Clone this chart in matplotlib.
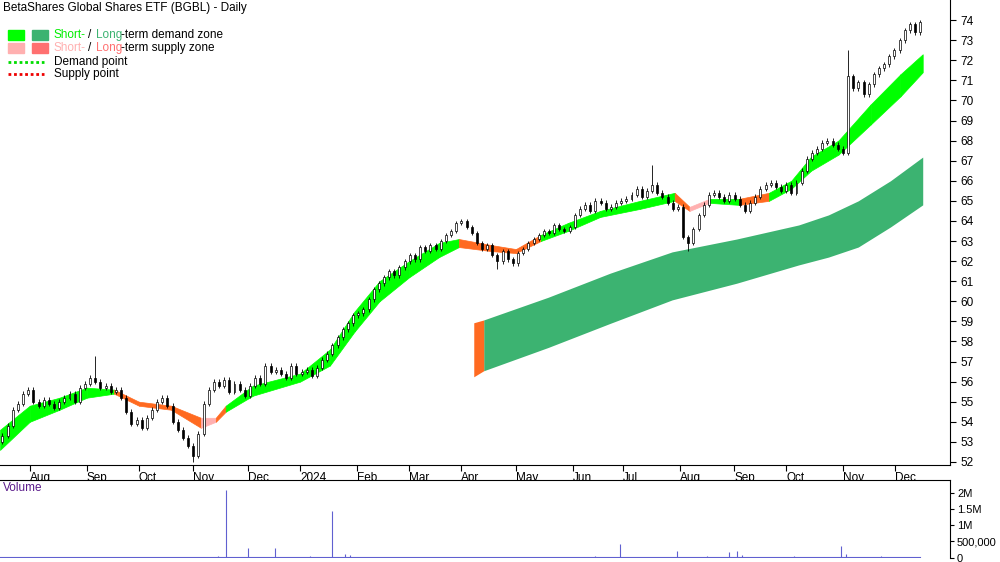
import matplotlib
matplotlib.use("Agg")
import matplotlib.pyplot as plt
import numpy as np
import pandas as pd

plt.rcParams["font.family"] = ["Liberation Sans", "DejaVu Sans"]

START = "2023-07-14"
END = "2024-12-31"

# closing prices, roughly two per week from 17 Jul 2023 to mid Dec 2024
closes = [
    53.3, 53.8, 54.6, 54.9, 55.4, 55.6,
    55.0, 54.8, 55.1, 54.9, 54.7, 55.0, 55.2, 55.4, 55.0, 55.7, 55.9,
    56.2, 56.0, 55.7, 55.8, 55.5, 55.6, 55.2, 54.5, 53.9, 54.1,
    53.7, 54.2, 54.6, 55.0, 55.2, 54.8, 54.0, 53.6, 53.2, 52.8, 52.3,
    53.4, 54.9, 55.6, 56.0, 55.8, 56.1, 55.5, 55.9, 55.6, 55.3, 55.8,
    56.2, 55.9, 56.8, 56.5, 56.6, 56.4, 56.2, 56.8, 56.4, 56.5,
    56.6, 56.3, 56.7, 57.1, 57.4, 57.8, 58.2, 58.6, 58.9, 59.3, 59.4,
    59.6, 60.1, 60.6, 60.9, 61.2, 61.5, 61.3, 61.7, 62.0, 62.3,
    62.1, 62.7, 62.5, 62.8, 62.6, 63.0, 63.3, 63.5, 63.9, 64.0,
    63.7, 63.4, 62.9, 62.6, 62.8, 62.3, 62.0, 62.5, 62.1, 61.9,
    62.4, 62.6, 62.9, 63.1, 63.3, 63.5, 63.4, 63.8, 63.6, 63.5, 63.7,
    64.3, 64.6, 64.8, 64.5, 65.0, 64.9, 64.6, 64.7, 64.9, 65.0,
    65.1, 65.3, 65.6, 65.2, 65.5, 65.8, 65.4, 65.2, 64.9, 64.6, 64.7,
    63.2, 62.9, 63.6, 64.3, 64.8, 65.3, 65.4, 65.2, 65.0, 65.3, 65.1,
    64.8, 64.5, 64.9, 65.2, 65.6, 65.8, 65.9, 65.7, 65.5, 65.8,
    65.4, 65.9, 66.5, 67.1, 67.4, 67.6, 67.9, 68.0, 67.8, 67.6, 67.4,
    71.2, 70.6, 70.9, 70.3, 70.8, 71.3, 71.6, 71.8, 72.2, 72.5,
    73.0, 73.5, 73.8, 73.4, 73.9,
]
first_open = 53.0
# unusual wicks: candle number -> high / low
wick_highs = {18: 57.3, 164: 72.5, 126: 66.8}
wick_lows = {133: 62.5, 37: 52.0, 96: 61.6}

# short-term zone (trading-day index, lower, upper, colour state)
st_idx = [0, 12, 24, 35, 46, 56, 69, 81, 87, 91, 102, 121, 133, 143, 153, 165, 177,
          185, 198, 208, 218, 229, 242, 258, 272, 278, 286, 298, 310, 319, 327, 338,
          351, 363, 372]
st_low = [52.6, 54.0, 54.6, 55.2, 55.4, 54.8, 54.6, 53.7, 54.0, 54.5, 55.3, 56.0, 56.8,
          58.5, 60.0, 61.2, 62.2, 62.7, 62.5, 62.4, 63.0, 63.5, 64.2, 64.6, 65.0, 64.5,
          64.9, 64.8, 65.0, 65.6, 66.5, 67.3, 68.8, 70.2, 71.4]
st_high = [53.6, 54.8, 55.2, 55.7, 55.6, 55.0, 54.8, 54.2, 54.2, 54.8, 55.8, 56.4, 57.6,
           59.5, 61.0, 62.0, 62.9, 63.1, 62.8, 62.6, 63.3, 63.9, 64.5, 65.0, 65.4, 64.7,
           65.1, 65.1, 65.4, 66.0, 67.2, 68.0, 69.8, 71.3, 72.3]
st_state = ["d", "d", "d", "d", "s", "s", "s", "p", "s", "d", "d", "d", "d", "d", "d",
            "d", "d", "s", "s", "s", "d", "d", "d", "d", "s", "p", "d", "s", "d", "d",
            "d", "d", "d", "d", "d"]

# long-term zone
lt_idx = [191, 195, 221, 246, 271, 297, 322, 334, 346, 359, 372]
lt_low = [56.24, 56.54, 57.7, 58.9, 60.07, 60.9, 61.81, 62.2, 62.7, 63.7, 64.8]
lt_high = [58.93, 59.07, 60.2, 61.4, 62.46, 63.1, 63.8, 64.3, 65.0, 66.0, 67.18]

# volume spikes (trading-day index, shares)
vol_idx = [5, 20, 40, 60, 80, 88, 91, 100, 111, 125, 134, 139, 141, 160, 190, 215,
           240, 250, 262, 273, 285, 294, 297, 299, 320, 339, 341, 355, 370]
vol_val = [20000, 30000, 25000, 20000, 30000, 40000, 2100000, 280000, 290000, 40000,
           1450000, 100000, 90000, 30000, 25000, 30000, 35000, 420000, 30000, 200000,
           60000, 170000, 190000, 90000, 40000, 350000, 110000, 40000, 30000]

days = pd.bdate_range(START, END)
n = len(closes)
cx = 1 + np.arange(n) * (371 - 1) / (n - 1)

fig = plt.figure(figsize=(10, 5.62), dpi=100)
ax = fig.add_axes([0.0, 0.173, 0.95, 0.827])
axv = fig.add_axes([0.0, 0.008, 0.95, 0.138])

# short-term zone, coloured by segment
zone_col = {"d": "#00ff00", "s": "#ff6a20", "p": "#ffb0b0"}
for i in range(len(st_idx) - 1):
    ax.fill_between(st_idx[i:i + 2], st_low[i:i + 2], st_high[i:i + 2],
                    color=zone_col[st_state[i]], lw=0.5, zorder=2)

ax.fill_between(lt_idx[1:], lt_low[1:], lt_high[1:], color="#3cb371", lw=0, zorder=1)
ax.fill_between(lt_idx[:2], lt_low[:2], lt_high[:2], color="#ff6a20", lw=0, zorder=1)

opens = [first_open] + closes[:-1]
for i in range(n):
    o, c = opens[i], closes[i]
    hi = wick_highs.get(i, max(o, c) + 0.12)
    lo = wick_lows.get(i, min(o, c) - 0.12)
    ax.vlines(cx[i], lo, hi, color="black", lw=0.6, zorder=3)
    up = c >= o
    ax.bar(cx[i], max(abs(c - o), 0.08), bottom=min(o, c), width=0.8,
           color="white" if up else "black", edgecolor="black", lw=0.5, zorder=4)

ax.set_xlim(0, 383)
ax.set_ylim(51.86, 75.0)
ax.yaxis.tick_right()
ax.set_yticks(range(52, 75))
ax.tick_params(axis="y", labelsize=8.5, length=4, direction="out")
for s in ["top", "left"]:
    ax.spines[s].set_visible(False)

month_pos, month_lab = [], []
for m in pd.date_range("2023-08-01", "2024-12-01", freq="MS"):
    pos = days.searchsorted(m)
    month_pos.append(pos)
    month_lab.append("2024" if m.year == 2024 and m.month == 1 else m.strftime("%b"))
ax.set_xticks(month_pos)
ax.set_xticklabels(month_lab, ha="left", fontsize=8.5)
ax.tick_params(axis="x", length=4, pad=1)

ax.text(0.003, 0.995, "BetaShares Global Shares ETF (BGBL) - Daily",
        transform=ax.transAxes, va="top", fontsize=8.5)

# legend
for (x0, y0, col) in [(8, 40, "#00ff00"), (32, 40, "#3cb371"),
                      (8, 53, "#ffb0b0"), (32, 53, "#ff7070")]:
    fig.patches.append(plt.Rectangle((x0 / 1000, 1 - y0 / 562), 16 / 1000, 10 / 562,
                                     color=col, transform=fig.transFigure))
for y, col in [(62, "#00dd00"), (74, "#ee0000")]:
    fig.add_artist(plt.Line2D([8 / 1000, 44 / 1000], [1 - y / 562] * 2, color=col,
                              lw=2, ls=(0, (1, 1)), transform=fig.transFigure))
fs = 8.5
ty = [35, 48, 62, 74]
fig.text(54 / 1000, 1 - ty[0] / 562, "Short-", color="#00ee00", fontsize=fs, va="center")
fig.text(88 / 1000, 1 - ty[0] / 562, "/", fontsize=fs, va="center")
fig.text(96 / 1000, 1 - ty[0] / 562, "Long", color="#3cb371", fontsize=fs, va="center")
fig.text(121 / 1000, 1 - ty[0] / 562, "-term demand zone", fontsize=fs, va="center")
fig.text(54 / 1000, 1 - ty[1] / 562, "Short-", color="#ffb0b0", fontsize=fs, va="center")
fig.text(88 / 1000, 1 - ty[1] / 562, "/", fontsize=fs, va="center")
fig.text(96 / 1000, 1 - ty[1] / 562, "Long", color="#ff7070", fontsize=fs, va="center")
fig.text(121 / 1000, 1 - ty[1] / 562, "-term supply zone", fontsize=fs, va="center")
fig.text(54 / 1000, 1 - ty[2] / 562, "Demand point", fontsize=fs, va="center")
fig.text(54 / 1000, 1 - ty[3] / 562, "Supply point", fontsize=fs, va="center")

# volume panel
axv.vlines(vol_idx, 0, vol_val, color="#6060d0", lw=0.8)
axv.axhline(15000, xmin=0, xmax=371 / 383, color="#6060d0", lw=0.8)
axv.set_xlim(0, 383)
axv.set_ylim(0, 2.4e6)
axv.yaxis.tick_right()
axv.set_yticks([0, 500000, 1000000, 1500000, 2000000])
axv.set_yticklabels(["0", "500,000", "1M", "1.5M", "2M"])
axv.tick_params(axis="y", labelsize=8, length=3, pad=2)
axv.set_xticks([])
for s in ["left", "bottom"]:
    axv.spines[s].set_visible(False)
axv.text(0.003, 0.97, "Volume", transform=axv.transAxes, va="top",
         fontsize=8.5, color="#5a1a8a")

fig.savefig("out.png", dpi=100)
